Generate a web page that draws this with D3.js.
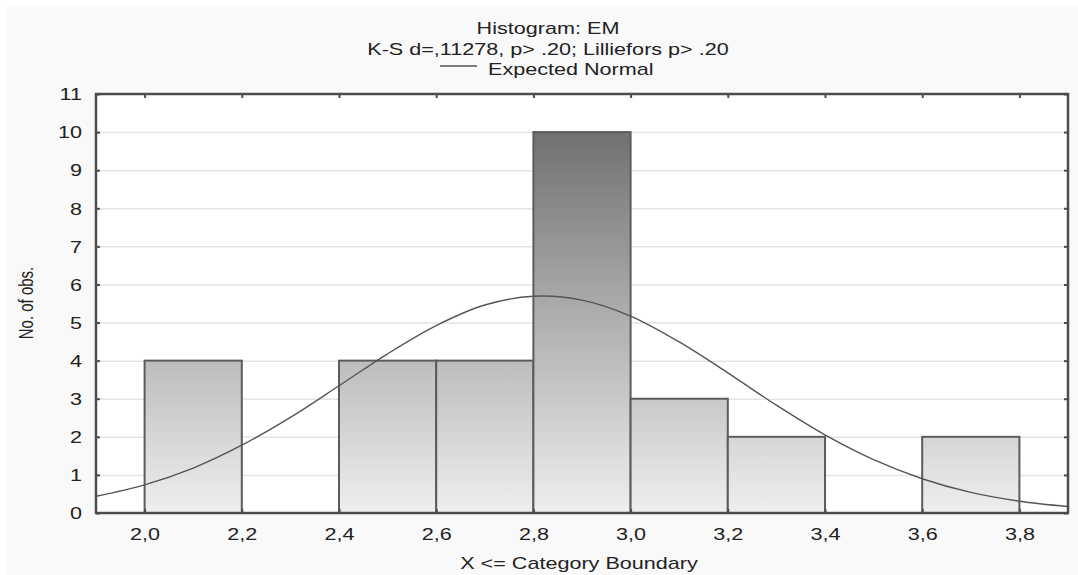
<!DOCTYPE html>
<html>
<head>
<meta charset="utf-8">
<script src="https://cdn.jsdelivr.net/npm/d3@7"></script>
<style>
  body { margin: 0; background: #fff; }
  text { font-family: "Liberation Sans", Arial, sans-serif; fill: #222; }
</style>
</head>
<body>
<svg id="chart"></svg>
<script>
// histogram bins (upper boundaries) and counts
const binEdges = [2.0, 2.2, 2.4, 2.6, 2.8, 3.0, 3.2, 3.4, 3.6, 3.8];
const counts = [4, 0, 4, 4, 10, 3, 2, 0, 2];

// expected normal curve
const normalX = [1.9, 2.0, 2.1, 2.2, 2.3, 2.4, 2.5, 2.6, 2.7, 2.8, 2.9, 3.0, 3.1, 3.2, 3.3, 3.4, 3.5, 3.6, 3.7, 3.8, 3.9];
const normalY = [0.44, 0.74, 1.18, 1.78, 2.51, 3.34, 4.18, 4.92, 5.46, 5.69, 5.59, 5.17, 4.49, 3.68, 2.83, 2.05, 1.40, 0.90, 0.54, 0.31, 0.17];

const xTicks = [2.0, 2.2, 2.4, 2.6, 2.8, 3.0, 3.2, 3.4, 3.6, 3.8];
const yTicks = [0, 1, 2, 3, 4, 5, 6, 7, 8, 9, 10, 11];

const titleLines = ["Histogram: EM", "K-S d=,11278, p> .20; Lilliefors p> .20"];
const legendLabel = "Expected Normal";
const xLabel = "X <= Category Boundary";
const yLabel = "No. of obs.";

const width = 1078;
const height = 575;
const SX = 1.35; // the picture is stretched sideways, text too

const svg = d3.select("#chart").attr("width", width).attr("height", height);

const x = d3.scaleLinear().domain([1.9, 3.9]).range([96, 1068]);
const y = d3.scaleLinear().domain([0, 11]).range([513, 94]);

// grey panel + white plot area
svg.append("rect").attr("x", 7).attr("y", 6).attr("width", width - 7).attr("height", height - 6).attr("fill", "#f9f9f9");
svg.append("rect").attr("x", 96).attr("y", 94).attr("width", 1068 - 96).attr("height", 513 - 94).attr("fill", "#fff");

const defs = svg.append("defs");
const grad = defs.append("linearGradient")
  .attr("id", "barGrad")
  .attr("gradientUnits", "userSpaceOnUse")
  .attr("x1", 0).attr("x2", 0)
  .attr("y1", y(0)).attr("y2", y(10));
grad.append("stop").attr("offset", 0).attr("stop-color", "#efefef");
grad.append("stop").attr("offset", 1).attr("stop-color", "#717171");

defs.append("clipPath").attr("id", "plotClip")
  .append("rect").attr("x", 96).attr("y", 94).attr("width", 1068 - 96).attr("height", 513 - 94);

// grid lines
svg.append("g")
  .attr("transform", "translate(96,0)")
  .call(d3.axisLeft(y).tickValues(yTicks.slice(1, -1)).tickSize(-(1068 - 96)).tickFormat(""))
  .call(g => g.select(".domain").remove())
  .call(g => g.selectAll("line").attr("stroke", "#e4e4e4").attr("stroke-width", 1.5));

// bars
const bins = counts.map((c, i) => ({ x0: binEdges[i], x1: binEdges[i + 1], count: c }));
svg.append("g").selectAll("rect")
  .data(bins.filter(d => d.count > 0))
  .join("rect")
  .attr("x", d => x(d.x0))
  .attr("y", d => y(d.count))
  .attr("width", d => x(d.x1) - x(d.x0))
  .attr("height", d => y(0) - y(d.count))
  .attr("fill", "url(#barGrad)")
  .attr("stroke", "#5c5c5c")
  .attr("stroke-width", 2);

// expected normal
const line = d3.line()
  .x((d, i) => x(normalX[i]))
  .y(d => y(d))
  .curve(d3.curveCatmullRom);
svg.append("path")
  .attr("clip-path", "url(#plotClip)")
  .attr("d", line(normalY))
  .attr("fill", "none")
  .attr("stroke", "#555")
  .attr("stroke-width", 1.4);

// frame
svg.append("rect").attr("x", 96).attr("y", 94).attr("width", 1068 - 96).attr("height", 513 - 94)
  .attr("fill", "none").attr("stroke", "#4d4d4d").attr("stroke-width", 2.5);

// inward ticks on all four sides
const tickStyle = g => {
  g.select(".domain").remove();
  g.selectAll("line").attr("stroke", "#4d4d4d").attr("stroke-width", 2);
};
svg.append("g").attr("transform", "translate(96,0)")
  .call(d3.axisRight(y).tickValues(yTicks).tickSize(4).tickFormat("")).call(tickStyle);
svg.append("g").attr("transform", "translate(1068,0)")
  .call(d3.axisLeft(y).tickValues(yTicks).tickSize(4).tickFormat("")).call(tickStyle);
svg.append("g").attr("transform", "translate(0,94)")
  .call(d3.axisBottom(x).tickValues(xTicks).tickSize(4).tickFormat("")).call(tickStyle);
svg.append("g").attr("transform", "translate(0,513)")
  .call(d3.axisTop(x).tickValues(xTicks).tickSize(4).tickFormat("")).call(tickStyle);

// tick labels
const fmt = d => d3.format(".1f")(d).replace(".", ",");
svg.append("g").attr("transform", "translate(96,0)")
  .call(d3.axisLeft(y).tickValues(yTicks).tickSize(0).tickFormat(d3.format("d")))
  .call(g => g.select(".domain").remove())
  .call(g => g.selectAll("text")
    .attr("x", -14 / SX).attr("dy", "0.36em")
    .attr("transform", `scale(${SX},1)`)
    .style("font-size", "16px").style("font-family", "Liberation Sans, Arial, sans-serif").attr("fill", "#222"));

svg.append("g").attr("transform", "translate(0,513)")
  .call(d3.axisBottom(x).tickValues(xTicks).tickSize(0).tickFormat(fmt))
  .call(g => g.select(".domain").remove())
  .call(g => g.selectAll("text")
    .attr("y", 27).attr("dy", 0)
    .attr("transform", `scale(${SX},1)`)
    .style("font-size", "16px").style("font-family", "Liberation Sans, Arial, sans-serif").attr("fill", "#222"));

// titles
const stretchedText = (tx, ty, str, anchor, size) =>
  svg.append("text")
    .attr("transform", `translate(${tx},${ty}) scale(${SX},1)`)
    .attr("text-anchor", anchor)
    .style("font-size", size + "px")
    .text(str);

stretchedText(548, 34, titleLines[0], "middle", 16);
stretchedText(548, 55, titleLines[1], "middle", 16);

// legend
svg.append("line").attr("x1", 440).attr("x2", 477).attr("y1", 66).attr("y2", 66)
  .attr("stroke", "#555").attr("stroke-width", 1.4);
stretchedText(488, 75, legendLabel, "start", 16);

// axis titles
stretchedText(579, 569, xLabel, "middle", 16);
svg.append("text")
  .attr("transform", `translate(33,303) scale(${SX},1) rotate(-90)`)
  .attr("text-anchor", "middle")
  .style("font-size", "15px")
  .text(yLabel);
</script>
</body>
</html>
